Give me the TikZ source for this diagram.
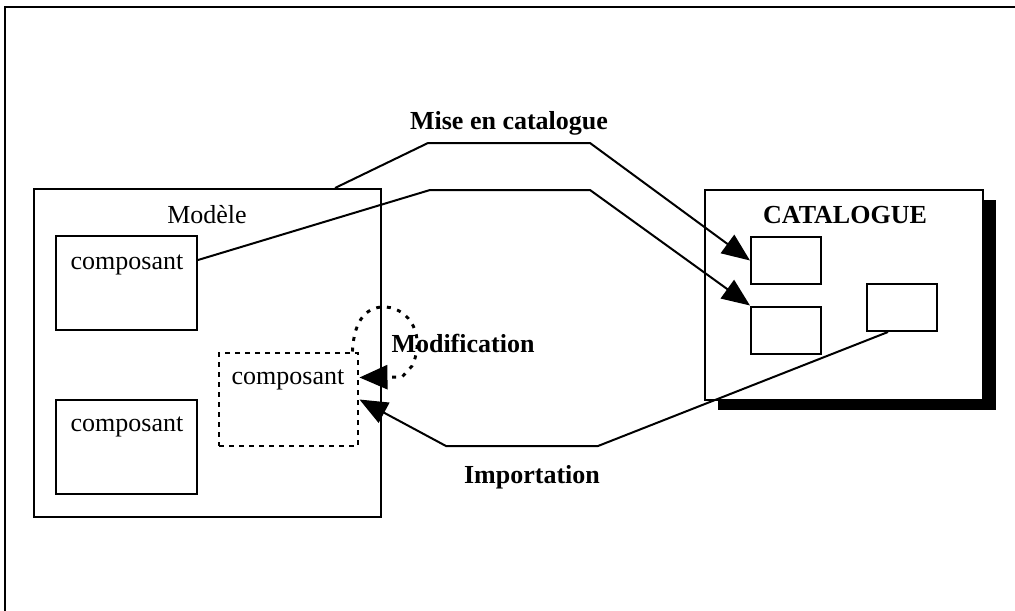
\documentclass[tikz,border=0pt]{standalone}
\usepackage{fontspec}
\setmainfont{Liberation Serif}
\usepackage{tikz}
\usetikzlibrary{positioning,calc,arrows.meta,shadows}

\begin{document}
\begin{tikzpicture}[
  x=0.75pt, y=-0.75pt,
  font=\fontsize{19.5}{23}\selectfont,
  frame/.style={line width=1.7pt},
  bigbox/.style={draw, line width=1.5pt, fill=white},
  compbox/.style={draw, line width=1.5pt, minimum width=105.75pt,
                  minimum height=70.5pt, inner sep=0pt},
  slot/.style={draw, line width=1.5pt, minimum width=52.5pt,
               minimum height=35.25pt, inner sep=0pt, fill=white},
  dotbox/.style={draw, line width=2.2pt, dash pattern=on 3.5pt off 4pt,
                 minimum width=104.25pt, minimum height=69.75pt, inner sep=0pt},
  lbl/.style={inner sep=1pt},
  blbl/.style={inner sep=1pt, font=\fontsize{19.5}{23}\selectfont\bfseries},
  conn/.style={line width=1.5pt, -{Triangle[length=21pt,width=17pt]}},
  dotconn/.style={line width=2.2pt, dash pattern=on 3pt off 5pt,
                  -{Triangle[length=21pt,width=18pt]}},
]
\useasboundingbox (0,0) rectangle (1015,611);
\draw[frame] (5,611) |- (1015,7);
%─── Modele with its components ───────────────────────────────────────────
\node[bigbox, minimum width=260.25pt, minimum height=246pt, inner sep=0pt]
  (modele) at (207.5,353) {};
\node[lbl] (modeletxt) at (207,215) {Modèle};
\node[compbox] (comp1) at (126.5,283) {};
\node[lbl] (comp1txt) at (127,265) {composant};
\node[compbox] (comp2) at (126.5,447) {};
\node[lbl] (comp2txt) at (127,427) {composant};
\node[dotbox] (dcomp) at (288.5,399.5) {};
\node[lbl] (dcomptxt) at (288,380) {composant};
%─── Catalogue ────────────────────────────────────────────────────────────
\node[bigbox, minimum width=208.5pt, minimum height=157.5pt, inner sep=0pt,
      drop shadow={fill=black, opacity=1, shadow xshift=9.75pt,
                   shadow yshift=-7.5pt}]
  (cat) at (844,295) {};
\node[blbl] (cattxt) at (845,215) {CATALOGUE};
\node[slot] (slotA) at (786,260.5) {};
\node[slot] (slotB) at (786,330) {};
\node[slot] (slotC) at (902,307.5) {};
%─── Mise en catalogue ────────────────────────────────────────────────────
\node[blbl] (mise) at (509,123) {Mise en catalogue};
\draw[conn] ($(modele.north east)+(-47,0)$) -- (428,143) -- (590,143)
  -- (slotA.west);
\draw[conn] ($(comp1.east)+(0,-23)$) -- (430,190) -- (590,190)
  -- (slotB.north west);
%─── Modification ─────────────────────────────────────────────────────────
\node[blbl] (modif) at (463,343) {Modification};
\draw[dotconn] ($(dcomp.north east)+(-7,0)$)
  .. controls (354,318) and (368,306) .. (386,307)
  .. controls (410,309) and (426,336) .. (412,366)
  -- (402,377) -- ($(dcomp.east)+(0,-22)$);
%─── Importation ──────────────────────────────────────────────────────────
\node[blbl] (import) at (532,477) {Importation};
\draw[conn] ($(slotC.south)+(-14,0)$) -- (598,446) -- (446,446)
  -- (dcomp.east);
\end{tikzpicture}
\end{document}
